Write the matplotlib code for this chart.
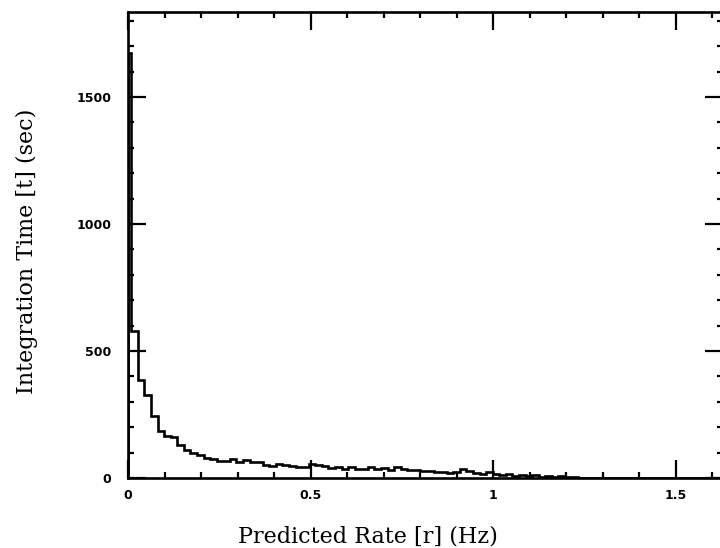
import numpy as np
import matplotlib
matplotlib.use("Agg")
import matplotlib.pyplot as plt
from matplotlib.ticker import MultipleLocator, FuncFormatter

# Integration time per predicted-rate bin (seconds)
bin_width = 0.018
integration_time = [
    1675, 580, 387, 325, 245, 185, 165, 160, 130, 112,
    100, 92, 80, 76, 66, 68, 76, 62, 72, 62,
    64, 52, 46, 56, 50, 46, 44, 42, 56, 50,
    46, 40, 44, 34, 44, 36, 34, 45, 36, 40,
    30, 42, 35, 33, 32, 27, 26, 25, 24, 20,
    22, 37, 26, 20, 17, 22, 14, 10, 14, 8,
    12, 6, 10, 5, 8, 3, 6, 2, 3, 1,
    0, 0, 0, 0, 0, 0, 0, 0, 0, 0,
    0, 0, 0, 0, 0, 0, 0, 0, 0, 0,
]
# bins are centred on multiples of the bin width; the first one is clipped at zero
rate_edges = np.concatenate([[0.0], bin_width / 2 + bin_width * np.arange(len(integration_time))])

x_major = [0, 0.5, 1, 1.5]
y_major = [0, 500, 1000, 1500]

fig = plt.figure(figsize=(7.2, 5.48), dpi=100)
ax = fig.add_axes([128 / 720, 70 / 548, (723 - 128) / 720, (478 - 12) / 548])

ax.stairs(integration_time, rate_edges, color="black", linewidth=1.9)

ax.set_xlim(0, 1.63)
ax.set_ylim(0, 1835)

ax.xaxis.set_major_locator(plt.FixedLocator(x_major))
ax.xaxis.set_minor_locator(MultipleLocator(0.1))
ax.yaxis.set_major_locator(plt.FixedLocator(y_major))
ax.yaxis.set_minor_locator(MultipleLocator(100))
ax.xaxis.set_major_formatter(FuncFormatter(lambda v, p: f"{v:g}"))
ax.yaxis.set_major_formatter(FuncFormatter(lambda v, p: f"{v:g}"))

ax.tick_params(which="both", direction="in", top=True, right=True, width=1.6, colors="black")
ax.tick_params(which="major", length=13)
ax.tick_params(which="minor", length=4.5)
ax.tick_params(axis="x", which="major", pad=8)
ax.tick_params(axis="y", which="major", pad=12)
for lbl in ax.get_xticklabels() + ax.get_yticklabels():
    lbl.set_fontfamily("DejaVu Sans")
    lbl.set_fontweight("bold")
    lbl.set_fontsize(9)

for sp in ax.spines.values():
    sp.set_linewidth(1.9)

ax.set_xlabel("Predicted Rate [r] (Hz)", family="DejaVu Serif", fontsize=16)
ax.set_ylabel("Integration Time [t] (sec)", family="DejaVu Serif", fontsize=16)
ax.xaxis.set_label_coords((368 - 128) / (723 - 128), -(536 - 478) / (478 - 12))
ax.yaxis.set_label_coords(-(128 - 27) / (723 - 128), (478 - 251) / (478 - 12))
ax.xaxis.label.set_verticalalignment("center")
ax.yaxis.label.set_verticalalignment("center")

fig.savefig("out.png", dpi=100)
